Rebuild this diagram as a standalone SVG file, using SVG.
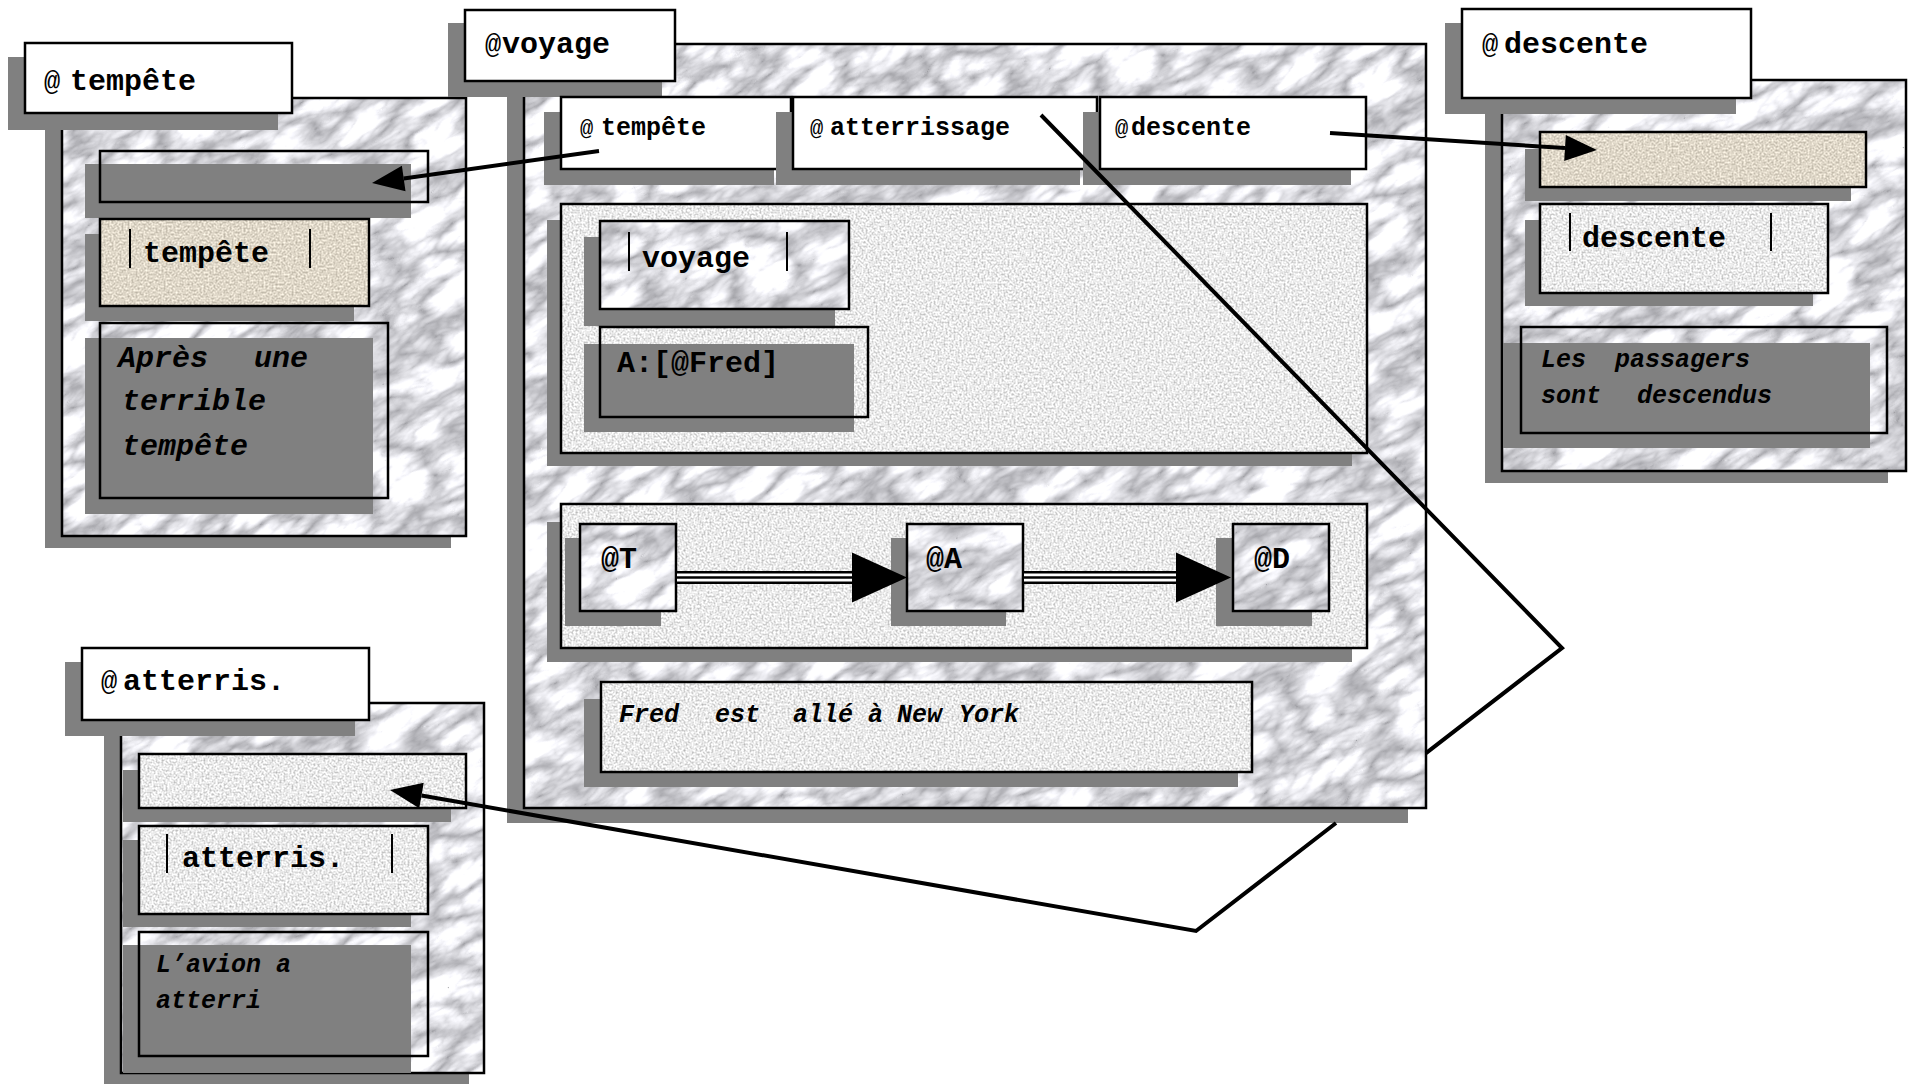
<svg xmlns="http://www.w3.org/2000/svg" width="1912" height="1084" viewBox="0 0 1912 1084">
  <defs>
    <!-- marble: soft turbulence veins, rotated so they rise to the right -->
    <filter id="fMarble" filterUnits="userSpaceOnUse" x="0" y="0" width="420" height="420" color-interpolation-filters="sRGB">
      <feTurbulence type="turbulence" baseFrequency="0.014 0.034" numOctaves="4" seed="7" stitchTiles="stitch" result="t"/>
      <feColorMatrix in="t" type="matrix" values="0.85 0 0 0 0.63  0.85 0 0 0 0.63  0.85 0 0 0 0.65  0 0 0 0 1"/>
    </filter>
    <pattern id="marble" patternUnits="userSpaceOnUse" width="420" height="420" patternTransform="rotate(-30)">
      <rect width="420" height="420" filter="url(#fMarble)"/>
    </pattern>
    <!-- fine-grained granite paper -->
    <filter id="fGranite" filterUnits="userSpaceOnUse" x="0" y="0" width="200" height="200" color-interpolation-filters="sRGB">
      <feTurbulence type="fractalNoise" baseFrequency="0.5" numOctaves="2" seed="3" stitchTiles="stitch"/>
      <feColorMatrix type="matrix" values="0.6 0 0 0 0.62  0.6 0 0 0 0.62  0.6 0 0 0 0.62  0 0 0 0 1"/>
    </filter>
    <pattern id="granite" patternUnits="userSpaceOnUse" width="200" height="200">
      <rect width="200" height="200" filter="url(#fGranite)"/>
    </pattern>
    <!-- beige speckled paper -->
    <filter id="fBeige" filterUnits="userSpaceOnUse" x="0" y="0" width="200" height="200" color-interpolation-filters="sRGB">
      <feTurbulence type="fractalNoise" baseFrequency="0.5" numOctaves="2" seed="11" stitchTiles="stitch"/>
      <feColorMatrix type="matrix" values="0.45 0 0 0 0.65  0.45 0 0 0 0.62  0.45 0 0 0 0.56  0 0 0 0 1"/>
    </filter>
    <pattern id="beige" patternUnits="userSpaceOnUse" width="200" height="200">
      <rect width="200" height="200" filter="url(#fBeige)"/>
    </pattern>
    <marker id="head" markerUnits="userSpaceOnUse" markerWidth="40" markerHeight="32" refX="0" refY="16" orient="auto" overflow="visible">
      <path d="M0,3 L32,16 L0,29 Z" fill="#000"/>
    </marker>
    <marker id="headBig" markerUnits="userSpaceOnUse" markerWidth="60" markerHeight="54" refX="0" refY="27" orient="auto" overflow="visible">
      <path d="M0,2 L55,27 L0,52 Z" fill="#000"/>
    </marker>
    <style>
      .sh { fill: #808080; }
      .box { stroke: #000; stroke-width: 2.5; }
      .white { fill: #fff; }
      .mar { fill: url(#marble); }
      .gra { fill: url(#granite); }
      .bei { fill: url(#beige); }
      .clear { fill: none; }
      .bar { stroke: #000; stroke-width: 2; }
      text { font-family: "Liberation Mono", "Courier New", monospace; font-weight: bold; fill: #000; }
      .t30 { font-size: 30px; }
      .t25 { font-size: 25px; }
      .at { font-weight: normal; font-size: 27px; }
      .atS { font-weight: normal; font-size: 22px; }
      .it { font-style: italic; }
      .conn { fill: none; stroke: #000; stroke-width: 4; }
    </style>
  </defs>

  <rect width="1912" height="1084" fill="#fff"/>

  <!-- frame "@tempête" -->
  <g id="n-tempete">
    <rect class="sh" x="45" y="112" width="406" height="436"/>
    <rect class="box mar" x="62" y="98" width="404" height="438"/>
    <rect class="sh" x="8" y="57" width="270" height="73"/>
    <rect class="box white" x="25" y="43" width="267" height="70"/>
    <text class="t30" y="90"><tspan class="at" x="44">@</tspan><tspan x="70">tempête</tspan></text>

    <rect class="sh" x="85" y="164" width="326" height="54"/>
    <rect class="box clear" x="100" y="151" width="328" height="51"/>

    <rect class="sh" x="85" y="234" width="269" height="87"/>
    <rect class="box bei" x="100" y="219" width="269" height="87"/>
    <line class="bar" x1="130" y1="229" x2="130" y2="268"/>
    <line class="bar" x1="310" y1="229" x2="310" y2="268"/>
    <text class="t30" x="143" y="262">tempête</text>

    <rect class="sh" x="85" y="338" width="288" height="176"/>
    <rect class="box clear" x="100" y="323" width="288" height="175"/>
    <text class="t30 it" y="367"><tspan x="118">Après</tspan><tspan x="254">une</tspan></text>
    <text class="t30 it" x="122" y="410">terrible</text>
    <text class="t30 it" x="122" y="455">tempête</text>
  </g>

  <!-- frame "@voyage" -->
  <g id="n-voyage">
    <rect class="sh" x="507" y="60" width="901" height="763"/>
    <rect class="box mar" x="524" y="44" width="902" height="764"/>
    <rect class="sh" x="448" y="23" width="214" height="74"/>
    <rect class="box white" x="465" y="10" width="210" height="71"/>
    <text class="t30" y="53"><tspan class="at" x="485">@</tspan><tspan x="502">voyage</tspan></text>

    <!-- tab row -->
    <rect class="sh" x="544" y="112" width="230" height="73"/>
    <rect class="box white" x="561" y="97" width="230" height="72"/>
    <rect class="sh" x="776" y="112" width="304" height="73"/>
    <rect class="box white" x="793" y="97" width="304" height="72"/>
    <rect class="sh" x="1083" y="112" width="268" height="73"/>
    <rect class="box white" x="1100" y="97" width="266" height="72"/>
    <text class="t25" y="135"><tspan class="atS" x="580">@</tspan><tspan x="601">tempête</tspan></text>
    <text class="t25" y="135"><tspan class="atS" x="810">@</tspan><tspan x="830">atterrissage</tspan></text>
    <text class="t25" y="135"><tspan class="atS" x="1115">@</tspan><tspan x="1131">descente</tspan></text>

    <!-- header area -->
    <rect class="sh" x="547" y="220" width="805" height="246"/>
    <rect class="box gra" x="561" y="204" width="806" height="249"/>
    <rect class="sh" x="584" y="237" width="251" height="89"/>
    <rect class="box mar" x="600" y="221" width="249" height="88"/>
    <line class="bar" x1="629" y1="232" x2="629" y2="271"/>
    <line class="bar" x1="787" y1="232" x2="787" y2="271"/>
    <text class="t30" x="642" y="267">voyage</text>
    <rect class="sh" x="584" y="344" width="270" height="88"/>
    <rect class="box clear" x="600" y="327" width="268" height="90"/>
    <text class="t30" x="617" y="372">A:[@Fred]</text>

    <!-- sequence area -->
    <rect class="sh" x="547" y="522" width="805" height="140"/>
    <rect class="box gra" x="561" y="504" width="806" height="144"/>
    <rect class="sh" x="565" y="538" width="96" height="88"/>
    <rect class="box mar" x="580" y="524" width="96" height="87"/>
    <text class="t30" x="601" y="568">@T</text>
    <rect class="sh" x="891" y="538" width="115" height="88"/>
    <rect class="box mar" x="907" y="524" width="116" height="87"/>
    <text class="t30" x="926" y="568">@A</text>
    <rect class="sh" x="1216" y="538" width="96" height="88"/>
    <rect class="box mar" x="1233" y="524" width="96" height="87"/>
    <text class="t30" x="1254" y="568">@D</text>

    <!-- summary -->
    <rect class="sh" x="584" y="699" width="654" height="88"/>
    <rect class="box gra" x="601" y="682" width="651" height="90"/>
    <text class="t25 it" y="722"><tspan x="619">Fred</tspan><tspan x="715">est</tspan><tspan x="793">allé</tspan><tspan x="868">à</tspan><tspan x="897">New</tspan><tspan x="959">York</tspan></text>
  </g>

  <!-- frame "@descente" -->
  <g id="n-descente">
    <rect class="sh" x="1485" y="94" width="403" height="389"/>
    <rect class="box mar" x="1502" y="80" width="404" height="391"/>
    <rect class="sh" x="1445" y="23" width="291" height="91"/>
    <rect class="box white" x="1462" y="9" width="289" height="89"/>
    <text class="t30" y="53"><tspan class="at" x="1482">@</tspan><tspan x="1504">descente</tspan></text>

    <rect class="sh" x="1525" y="149" width="326" height="52"/>
    <rect class="box bei" x="1540" y="132" width="326" height="55"/>

    <rect class="sh" x="1525" y="220" width="288" height="86"/>
    <rect class="box gra" x="1540" y="204" width="288" height="89"/>
    <line class="bar" x1="1570" y1="213" x2="1570" y2="251"/>
    <line class="bar" x1="1771" y1="213" x2="1771" y2="251"/>
    <text class="t30" x="1582" y="247">descente</text>

    <rect class="sh" x="1503" y="343" width="367" height="105"/>
    <rect class="box clear" x="1521" y="327" width="366" height="106"/>
    <text class="t25 it" y="367"><tspan x="1541">Les</tspan><tspan x="1615">passagers</tspan></text>
    <text class="t25 it" y="403"><tspan x="1541">sont</tspan><tspan x="1637">descendus</tspan></text>
  </g>

  <!-- frame "@atterris." -->
  <g id="n-atterris">
    <rect class="sh" x="104" y="717" width="365" height="367"/>
    <rect class="box mar" x="121" y="703" width="363" height="370"/>
    <rect class="sh" x="65" y="662" width="290" height="74"/>
    <rect class="box white" x="82" y="648" width="287" height="72"/>
    <text class="t30" y="690"><tspan class="at" x="101">@</tspan><tspan x="123">atterris.</tspan></text>

    <rect class="sh" x="123" y="770" width="328" height="52"/>
    <rect class="box gra" x="139" y="754" width="327" height="54"/>

    <rect class="sh" x="123" y="840" width="288" height="87"/>
    <rect class="box gra" x="139" y="826" width="289" height="88"/>
    <line class="bar" x1="167" y1="834" x2="167" y2="873"/>
    <line class="bar" x1="392" y1="834" x2="392" y2="873"/>
    <text class="t30" x="182" y="867">atterris.</text>

    <rect class="sh" x="123" y="945" width="288" height="128"/>
    <rect class="box clear" x="139" y="932" width="289" height="124"/>
    <text class="t25 it" x="156" y="972">L’avion a</text>
    <text class="t25 it" x="156" y="1008">atterri</text>
  </g>

  <!-- connectors -->
  <g id="connectors">
    <!-- tab links to their frames -->
    <path class="conn" d="M599,151 L403.7,178.5" marker-end="url(#head)"/>
    <path class="conn" d="M1330,133 L1565,148" marker-end="url(#head)"/>
    <!-- the landing link runs behind the voyage frame on its way back -->
    <path class="conn" stroke-width="3.5" stroke-linejoin="miter" d="M1041,115 L1562,648 L1426,753.2 M1336,823 L1196,931 L421.5,795.5" marker-end="url(#head)"/>
    <!-- sequence arrows -->
    <g>
      <line x1="677" y1="577.5" x2="852" y2="577.5" stroke="#000" stroke-width="13"/>
      <line x1="677" y1="577.5" x2="852" y2="577.5" stroke="#fff" stroke-width="8"/>
      <line x1="677" y1="577.5" x2="852" y2="577.5" stroke="#000" stroke-width="2.5" marker-end="url(#headBig)"/>
      <line x1="1024" y1="577.5" x2="1176" y2="577.5" stroke="#000" stroke-width="13"/>
      <line x1="1024" y1="577.5" x2="1176" y2="577.5" stroke="#fff" stroke-width="8"/>
      <line x1="1024" y1="577.5" x2="1176" y2="577.5" stroke="#000" stroke-width="2.5" marker-end="url(#headBig)"/>
    </g>
  </g>
</svg>
